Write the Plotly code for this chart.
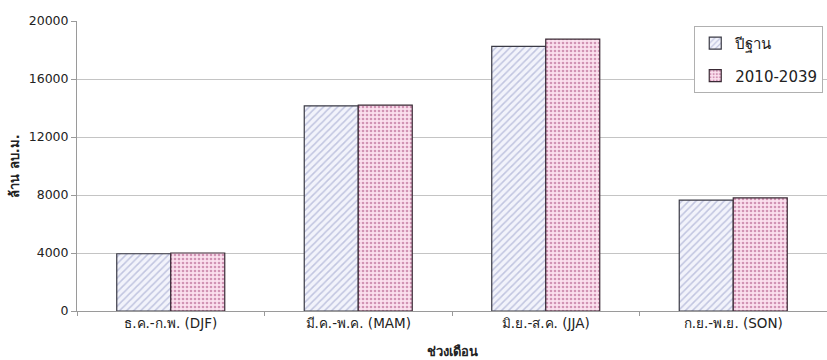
import plotly.graph_objects as go

categories = ["ธ.ค.-ก.พ. (DJF)", "มี.ค.-พ.ค. (MAM)", "มิ.ย.-ส.ค. (JJA)", "ก.ย.-พ.ย. (SON)"]
baseline = [3950, 14150, 18250, 7650]
future = [4000, 14200, 18750, 7800]
series_names = ["ปีฐาน", "2010-2039"]
y_ticks = [0, 4000, 8000, 12000, 16000, 20000]
y_tick_labels = ["0", "4000", "8000", "12000", "16000", "20000"]

FONT = "DejaVu Sans, Liberation Sans, Noto Sans, sans-serif"

fig = go.Figure()
fig.add_trace(go.Bar(
    x=categories, y=baseline, name=series_names[0], legendgroup="a",
    marker=dict(color="#eef0fa", line=dict(color="#3a3a45", width=1.2),
                pattern=dict(shape="/", fgcolor="#8f97c6", bgcolor="#f2f3fb", size=5, solidity=0.3)),
))
fig.add_trace(go.Bar(
    x=categories, y=future, name=series_names[1], legendgroup="b",
    marker=dict(color="#f9dcea", line=dict(color="#3a2a35", width=1.2),
                pattern=dict(shape=".", fgcolor="#a8467a", bgcolor="#fbe0ee", size=4, solidity=0.35)),
))

fig.update_layout(
    width=827, height=360,
    margin=dict(l=77, r=0, t=21, b=49),
    paper_bgcolor="white", plot_bgcolor="white",
    barmode="group", bargap=0.424, bargroupgap=0,
    font=dict(family=FONT, size=12, color="#222222"),
    showlegend=True,
    legend=dict(x=0.823, y=0.983, xanchor="left", yanchor="top",
                bgcolor="white", bordercolor="#b0b0b0", borderwidth=1,
                font=dict(size=15, color="#222222"),
                traceorder="grouped", tracegroupgap=10,
                itemwidth=30),
    xaxis=dict(showline=True, linecolor="#9a9a9a", linewidth=1,
               ticks="outside", tickson="boundaries", ticklen=4, tickcolor="#9a9a9a",
               tickfont=dict(size=13.5), showgrid=False,
               title=dict(text="<b>ช่วงเดือน</b>", font=dict(size=13), standoff=16)),
    yaxis=dict(range=[0, 20000], tickvals=y_ticks, ticktext=y_tick_labels,
               showline=True, linecolor="#9a9a9a",
               linewidth=1, ticks="outside", ticklen=5, tickcolor="#9a9a9a",
               gridcolor="#c4c4c4", gridwidth=1, tickfont=dict(size=12.5),
               zeroline=False,
               title=dict(text="<b>ล้าน ลบ.ม.</b>", font=dict(size=13), standoff=6)),
)

fig.write_html("out.html")
